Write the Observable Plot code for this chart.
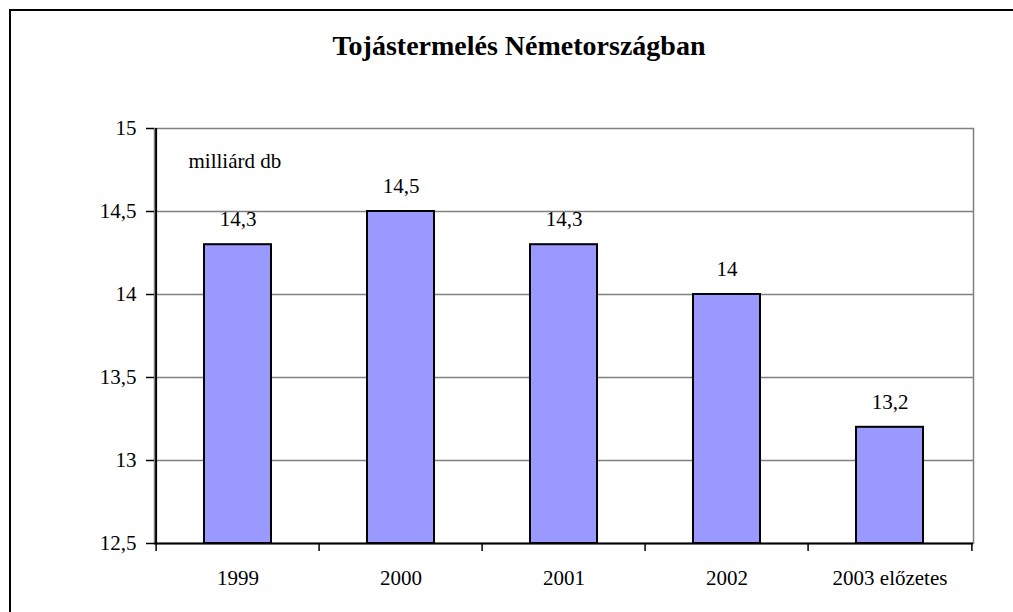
<!DOCTYPE html>
<html>
<head>
<meta charset="utf-8">
<script src="https://cdn.jsdelivr.net/npm/d3@7"></script>
<script src="https://cdn.jsdelivr.net/npm/@observablehq/plot@0.6"></script>
<style>
  html, body { margin: 0; padding: 0; background: #fff; overflow: hidden; }
  #wrap { position: relative; width: 1013px; height: 612px; overflow: hidden; font-family: "Liberation Serif", "Times New Roman", serif; }
  #border { position: absolute; left: 9px; top: 9px; width: 1100px; height: 700px; border-left: 2.5px solid #000; border-top: 2.5px solid #000; }
  #title { position: absolute; left: 0; width: 1038px; top: 30px; text-align: center; font-weight: bold; font-size: 28px; line-height: 32px; color: #000; }
  #chart { position: absolute; left: 0; top: 0; }
  #chart svg, #chart svg text { font-family: "Liberation Serif", "Times New Roman", serif !important; }
</style>
</head>
<body>
<div id="wrap">
  <div id="border"></div>
  <div id="title">Tojástermelés Németországban</div>
  <div id="chart"></div>
</div>
<script>
const years = ["1999", "2000", "2001", "2002", "2003 előzetes"];
const values = [14.3, 14.5, 14.3, 14.0, 13.2];
const yTicks = [12.5, 13, 13.5, 14, 14.5, 15];
const unitLabel = "milliárd db";

const data = years.map((year, i) => ({year, value: values[i]}));
const fmt = d => String(d).replace(".", ",");

const W = 1013, H = 612;
const mL = 154, mR = 40, mT = 128, mB = 69;
const step = (W - mL - mR) / years.length;
const half = step / 2;
const FF = "Liberation Serif";

const plot = Plot.plot({
  width: W,
  height: H,
  marginLeft: mL,
  marginRight: mR,
  marginTop: mT,
  marginBottom: mB,
  style: "font-family: 'Liberation Serif', serif; font-size: 20px; color: #000; background: transparent; overflow: visible;",
  x: {domain: years, paddingInner: 0.59, paddingOuter: 0.295, label: null},
  y: {domain: [12.5, 15], label: null},
  marks: [
    Plot.frame({stroke: "#808080", strokeWidth: 1.5}),
    Plot.ruleY(yTicks.slice(1, -1), {stroke: "#808080", strokeWidth: 1.3}),
    Plot.barY(data, {x: "year", y1: 12.5, y2: "value", fill: "#9999FF", stroke: "#000", strokeWidth: 2}),
    Plot.text(data, {x: "year", y: "value", text: d => fmt(d.value), dy: -25, lineAnchor: "middle", fill: "#000", fontSize: 21, fontFamily: FF}),
    Plot.text([unitLabel], {frameAnchor: "top-left", dx: 34, dy: 25, textAnchor: "start", lineAnchor: "top", fill: "#000", fontSize: 21, fontFamily: FF}),
    Plot.ruleY([12.5], {stroke: "#000", strokeWidth: 2}),
    Plot.ruleX([years[0]], {dx: -half, stroke: "#000", strokeWidth: 2}),
    Plot.axisY({ticks: yTicks, tickFormat: fmt, tickSize: 8, tickPadding: 10, stroke: "#000", strokeWidth: 1.5, fontSize: 21, fontFamily: FF}),
    Plot.axisX({tickSize: 8, tickFormat: () => "", dx: -half, stroke: "#000", strokeWidth: 1.5}),
    Plot.axisX({ticks: [years[years.length - 1]], tickSize: 8, tickFormat: () => "", dx: half, stroke: "#000", strokeWidth: 1.5}),
    Plot.axisX({tickSize: 0, tickPadding: 27, fontSize: 21, fontFamily: FF})
  ]
});
document.getElementById("chart").appendChild(plot);
</script>
</body>
</html>
